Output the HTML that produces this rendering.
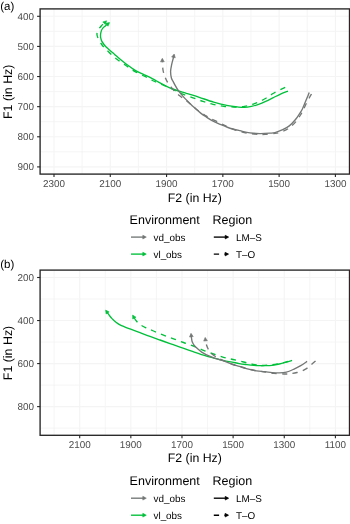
<!DOCTYPE html>
<html><head><meta charset="utf-8"><style>
html,body{margin:0;padding:0;background:#fff;}
body{width:350px;height:524px;overflow:hidden;}
svg{display:block;filter:blur(0.3px);font-family:"Liberation Sans", sans-serif;text-rendering:geometricPrecision;}
</style></head><body>
<svg width="350" height="524" viewBox="0 0 350 524">
<rect width="350" height="524" fill="#fff"/>
<line x1="82.14" y1="8.9" x2="82.14" y2="174.1" stroke="#efefef" stroke-width="0.6"/>
<line x1="138.42" y1="8.9" x2="138.42" y2="174.1" stroke="#efefef" stroke-width="0.6"/>
<line x1="194.7" y1="8.9" x2="194.7" y2="174.1" stroke="#efefef" stroke-width="0.6"/>
<line x1="250.98" y1="8.9" x2="250.98" y2="174.1" stroke="#efefef" stroke-width="0.6"/>
<line x1="307.26" y1="8.9" x2="307.26" y2="174.1" stroke="#efefef" stroke-width="0.6"/>
<line x1="40.1" y1="31.36" x2="349.5" y2="31.36" stroke="#efefef" stroke-width="0.6"/>
<line x1="40.1" y1="61.48" x2="349.5" y2="61.48" stroke="#efefef" stroke-width="0.6"/>
<line x1="40.1" y1="91.6" x2="349.5" y2="91.6" stroke="#efefef" stroke-width="0.6"/>
<line x1="40.1" y1="121.72" x2="349.5" y2="121.72" stroke="#efefef" stroke-width="0.6"/>
<line x1="40.1" y1="151.84" x2="349.5" y2="151.84" stroke="#efefef" stroke-width="0.6"/>
<line x1="54" y1="8.9" x2="54" y2="174.1" stroke="#f4f4f4" stroke-width="1.1"/>
<line x1="110.28" y1="8.9" x2="110.28" y2="174.1" stroke="#f4f4f4" stroke-width="1.1"/>
<line x1="166.56" y1="8.9" x2="166.56" y2="174.1" stroke="#f4f4f4" stroke-width="1.1"/>
<line x1="222.84" y1="8.9" x2="222.84" y2="174.1" stroke="#f4f4f4" stroke-width="1.1"/>
<line x1="279.12" y1="8.9" x2="279.12" y2="174.1" stroke="#f4f4f4" stroke-width="1.1"/>
<line x1="335.4" y1="8.9" x2="335.4" y2="174.1" stroke="#f4f4f4" stroke-width="1.1"/>
<line x1="40.1" y1="16.3" x2="349.5" y2="16.3" stroke="#f4f4f4" stroke-width="1.1"/>
<line x1="40.1" y1="46.42" x2="349.5" y2="46.42" stroke="#f4f4f4" stroke-width="1.1"/>
<line x1="40.1" y1="76.54" x2="349.5" y2="76.54" stroke="#f4f4f4" stroke-width="1.1"/>
<line x1="40.1" y1="106.66" x2="349.5" y2="106.66" stroke="#f4f4f4" stroke-width="1.1"/>
<line x1="40.1" y1="136.78" x2="349.5" y2="136.78" stroke="#f4f4f4" stroke-width="1.1"/>
<line x1="40.1" y1="166.9" x2="349.5" y2="166.9" stroke="#f4f4f4" stroke-width="1.1"/>
<path d="M288,91.1 C286.67,91.63 282.52,93.17 280,94.3 C277.48,95.43 275.28,96.72 272.9,97.9 C270.52,99.08 268.08,100.33 265.7,101.4 C263.32,102.47 260.98,103.47 258.6,104.3 C256.22,105.13 253.78,105.88 251.4,106.4 C249.02,106.92 246.68,107.32 244.3,107.4 C241.92,107.48 239.82,107.18 237.1,106.9 C234.38,106.62 231.92,106.5 228,105.7 C224.08,104.9 218.38,103.5 213.6,102.1 C208.82,100.7 203.23,98.58 199.3,97.3 C195.37,96.02 192.5,95.17 190,94.4 C187.5,93.63 186.2,93.27 184.3,92.7 C182.4,92.13 180.5,91.62 178.6,91 C176.7,90.38 174.82,89.73 172.9,89 C170.98,88.27 169.02,87.48 167.1,86.6 C165.18,85.72 163.3,84.72 161.4,83.7 C159.5,82.68 157.6,81.55 155.7,80.5 C153.8,79.45 151.9,78.35 150,77.4 C148.1,76.45 146.2,75.67 144.3,74.8 C142.4,73.93 140.5,73.18 138.6,72.2 C136.7,71.22 134.82,70.15 132.9,68.9 C130.98,67.65 129.02,66.13 127.1,64.7 C125.18,63.27 123.3,61.85 121.4,60.3 C119.5,58.75 116.95,56.5 115.7,55.4 C114.45,54.3 114.88,54.55 113.9,53.7 C112.92,52.85 111,51.32 109.8,50.3 C108.6,49.28 107.67,48.57 106.7,47.6 C105.73,46.63 104.8,45.53 104,44.5 C103.2,43.47 102.42,42.38 101.9,41.4 C101.38,40.42 101.13,39.52 100.9,38.6 C100.67,37.68 100.5,36.93 100.5,35.9 C100.5,34.87 100.62,33.55 100.9,32.4 C101.18,31.25 101.52,30.03 102.2,29 C102.88,27.97 103.94,27.13 105,26.2 C106.06,25.27 107.98,23.87 108.58,23.4" fill="none" stroke="#00c03a" stroke-width="1.35" stroke-linecap="butt" stroke-linejoin="round"/><path d="M109.6,22.6 L107.99,26.22 L105.7,23.29 Z" fill="#00c03a" stroke="#00c03a" stroke-width="0.6" stroke-linejoin="miter"/>
<path d="M105.67,21.71 C105.31,22.01 104.28,22.74 103.5,23.5 C102.72,24.26 101.87,25.25 101,26.3 C100.13,27.35 98.95,28.28 98.3,29.8 C97.65,31.32 96.53,32.95 97.1,35.4 C97.67,37.85 99.72,41.68 101.7,44.5 C103.68,47.32 106.45,49.83 109,52.3 C111.55,54.77 114.17,57.1 117,59.3 C119.83,61.5 123.05,63.5 126,65.5 C128.95,67.5 131.62,69.52 134.7,71.3 C137.78,73.08 141.37,74.58 144.5,76.2 C147.63,77.82 150.42,79.57 153.5,81 C156.58,82.43 159.75,83.38 163,84.8 C166.25,86.22 169.83,88 173,89.5 C176.17,91 178.67,92.42 182,93.8 C185.33,95.18 189.5,96.53 193,97.8 C196.5,99.07 199.67,100.32 203,101.4 C206.33,102.48 209.5,103.48 213,104.3 C216.5,105.12 220.5,105.85 224,106.3 C227.5,106.75 230.58,106.98 234,107 C237.42,107.02 241.08,106.95 244.5,106.4 C247.92,105.85 251.17,104.93 254.5,103.7 C257.83,102.47 261.25,100.78 264.5,99 C267.75,97.22 270.5,94.97 274,93 C277.5,91.03 283.58,88.17 285.5,87.2" fill="none" stroke="#00c03a" stroke-width="1.35" stroke-linecap="butt" stroke-linejoin="round" stroke-dasharray="5.3,5.3" stroke-dashoffset="6.78"/><path d="M106.6,20.8 L105.41,24.58 L102.8,21.92 Z" fill="#00c03a" stroke="#00c03a" stroke-width="0.6" stroke-linejoin="miter"/>
<path d="M309.2,92.6 C308.9,93.35 308.08,95.43 307.4,97.1 C306.72,98.77 305.93,100.62 305.1,102.6 C304.27,104.58 303.32,107.17 302.4,109 C301.48,110.83 300.75,111.85 299.6,113.6 C298.45,115.35 297.22,117.45 295.5,119.5 C293.78,121.55 291.53,124.17 289.3,125.9 C287.07,127.63 284.48,128.78 282.1,129.9 C279.72,131.02 277.02,132.05 275,132.6 C272.98,133.15 272.5,133.03 270,133.2 C267.5,133.37 263.33,133.65 260,133.6 C256.67,133.55 253.33,133.38 250,132.9 C246.67,132.42 243.45,131.52 240,130.7 C236.55,129.88 232.03,128.83 229.3,128 C226.57,127.17 225.5,126.47 223.6,125.7 C221.7,124.93 219.82,124.25 217.9,123.4 C215.98,122.55 214.02,121.65 212.1,120.6 C210.18,119.55 208.3,118.35 206.4,117.1 C204.5,115.85 202.82,114.77 200.7,113.1 C198.58,111.43 195.58,108.8 193.7,107.1 C191.82,105.4 190.83,104.32 189.4,102.9 C187.97,101.48 186.52,100.1 185.1,98.6 C183.68,97.1 182.1,95.33 180.9,93.9 C179.7,92.47 178.83,91.37 177.9,90 C176.97,88.63 176.1,87.13 175.3,85.7 C174.5,84.27 173.75,82.68 173.1,81.4 C172.45,80.12 171.82,79.68 171.4,78 C170.98,76.32 170.55,73.57 170.6,71.3 C170.65,69.03 171.27,66.53 171.7,64.4 C172.13,62.27 172.83,60.02 173.2,58.5 C173.57,56.98 173.8,55.81 173.92,55.27" fill="none" stroke="#737775" stroke-width="1.35" stroke-linecap="butt" stroke-linejoin="round"/><path d="M174.2,54 L175.26,57.82 L171.62,57.01 Z" fill="#737775" stroke="#737775" stroke-width="0.6" stroke-linejoin="miter"/>
<path d="M162.34,59.6 C162.35,60 162.29,60.27 162.4,62 C162.51,63.73 162.57,67.5 163,70 C163.43,72.5 164.17,74.83 165,77 C165.83,79.17 166.5,80.75 168,83 C169.5,85.25 172,88.33 174,90.5 C176,92.67 177.67,94.08 180,96 C182.33,97.92 185.33,99.83 188,102 C190.67,104.17 193.17,106.8 196,109 C198.83,111.2 202.67,113.67 205,115.2 C207.33,116.73 207.58,116.93 210,118.2 C212.42,119.47 216.33,121.25 219.5,122.8 C222.67,124.35 225.92,126.17 229,127.5 C232.08,128.83 234.83,129.85 238,130.8 C241.17,131.75 244.67,132.62 248,133.2 C251.33,133.78 255.17,134.1 258,134.3 C260.83,134.5 262.17,134.55 265,134.4 C267.83,134.25 272.5,133.75 275,133.4 C277.5,133.05 278.17,132.88 280,132.3 C281.83,131.72 284.25,130.78 286,129.9 C287.75,129.02 288.83,128.4 290.5,127 C292.17,125.6 294.33,123.5 296,121.5 C297.67,119.5 299.25,117 300.5,115 C301.75,113 302.5,111.5 303.5,109.5 C304.5,107.5 305.5,105 306.5,103 C307.5,101 308.67,99 309.5,97.5 C310.33,96 311.17,94.58 311.5,94" fill="none" stroke="#737775" stroke-width="1.35" stroke-linecap="butt" stroke-linejoin="round" stroke-dasharray="5.3,5.3" stroke-dashoffset="2.63"/><path d="M162.3,58.3 L164.25,61.75 L160.53,61.85 Z" fill="#737775" stroke="#737775" stroke-width="0.6" stroke-linejoin="miter"/>
<rect x="40.1" y="8.9" width="309.4" height="165.2" fill="none" stroke="#262626" stroke-width="1.35"/>
<line x1="54" y1="174.1" x2="54" y2="177.1" stroke="#262626" stroke-width="1.1"/>
<text x="54" y="186.9" font-size="9.9" fill="#4d4d4d" text-anchor="middle">2300</text>
<line x1="110.28" y1="174.1" x2="110.28" y2="177.1" stroke="#262626" stroke-width="1.1"/>
<text x="110.28" y="186.9" font-size="9.9" fill="#4d4d4d" text-anchor="middle">2100</text>
<line x1="166.56" y1="174.1" x2="166.56" y2="177.1" stroke="#262626" stroke-width="1.1"/>
<text x="166.56" y="186.9" font-size="9.9" fill="#4d4d4d" text-anchor="middle">1900</text>
<line x1="222.84" y1="174.1" x2="222.84" y2="177.1" stroke="#262626" stroke-width="1.1"/>
<text x="222.84" y="186.9" font-size="9.9" fill="#4d4d4d" text-anchor="middle">1700</text>
<line x1="279.12" y1="174.1" x2="279.12" y2="177.1" stroke="#262626" stroke-width="1.1"/>
<text x="279.12" y="186.9" font-size="9.9" fill="#4d4d4d" text-anchor="middle">1500</text>
<line x1="335.4" y1="174.1" x2="335.4" y2="177.1" stroke="#262626" stroke-width="1.1"/>
<text x="335.4" y="186.9" font-size="9.9" fill="#4d4d4d" text-anchor="middle">1300</text>
<line x1="37.1" y1="16.3" x2="40.1" y2="16.3" stroke="#262626" stroke-width="1.1"/>
<text x="33.9" y="19.85" font-size="9.9" fill="#4d4d4d" text-anchor="end">400</text>
<line x1="37.1" y1="46.42" x2="40.1" y2="46.42" stroke="#262626" stroke-width="1.1"/>
<text x="33.9" y="49.97" font-size="9.9" fill="#4d4d4d" text-anchor="end">500</text>
<line x1="37.1" y1="76.54" x2="40.1" y2="76.54" stroke="#262626" stroke-width="1.1"/>
<text x="33.9" y="80.09" font-size="9.9" fill="#4d4d4d" text-anchor="end">600</text>
<line x1="37.1" y1="106.66" x2="40.1" y2="106.66" stroke="#262626" stroke-width="1.1"/>
<text x="33.9" y="110.21" font-size="9.9" fill="#4d4d4d" text-anchor="end">700</text>
<line x1="37.1" y1="136.78" x2="40.1" y2="136.78" stroke="#262626" stroke-width="1.1"/>
<text x="33.9" y="140.33" font-size="9.9" fill="#4d4d4d" text-anchor="end">800</text>
<line x1="37.1" y1="166.9" x2="40.1" y2="166.9" stroke="#262626" stroke-width="1.1"/>
<text x="33.9" y="170.45" font-size="9.9" fill="#4d4d4d" text-anchor="end">900</text>
<text x="194.8" y="201.8" font-size="12.3" fill="#000" text-anchor="middle">F2 (in Hz)</text>
<text x="0" y="0" font-size="12.4" fill="#000" text-anchor="middle" transform="translate(12.2,91.8) rotate(-90)">F1 (in Hz)</text>
<text x="0.2" y="9.9" font-size="11.5" fill="#000" text-anchor="start">(a)</text>
<text x="129.6" y="223.7" font-size="12.5" fill="#000" text-anchor="start">Environment</text>
<text x="212.6" y="223.7" font-size="12.5" fill="#000" text-anchor="start">Region</text>
<text x="153.5" y="240.6" font-size="9.9" fill="#000" text-anchor="start">vd_obs</text>
<text x="153.5" y="257.7" font-size="9.9" fill="#000" text-anchor="start">vl_obs</text>
<text x="236" y="240.6" font-size="9.9" fill="#000" text-anchor="start">LM–S</text>
<text x="236" y="257.7" font-size="9.9" fill="#000" text-anchor="start">T–O</text>
<line x1="131" y1="237.1" x2="145" y2="237.1" stroke="#737775" stroke-width="1.35"/>
<path d="M146.3,237.1 L142.8,238.96 L142.8,235.24 Z" fill="#737775" stroke="#737775" stroke-width="0.6" stroke-linejoin="miter"/>
<line x1="131" y1="254.1" x2="145" y2="254.1" stroke="#00c03a" stroke-width="1.35"/>
<path d="M146.3,254.1 L142.8,255.96 L142.8,252.24 Z" fill="#00c03a" stroke="#00c03a" stroke-width="0.6" stroke-linejoin="miter"/>
<line x1="213.8" y1="237.1" x2="227.5" y2="237.1" stroke="#000" stroke-width="1.35"/>
<path d="M228.7,237.1 L225.2,238.96 L225.2,235.24 Z" fill="#000" stroke="#000" stroke-width="0.6" stroke-linejoin="miter"/>
<line x1="213.8" y1="254.1" x2="227.5" y2="254.1" stroke="#000" stroke-width="1.35" stroke-dasharray="5.3,5.3"/>
<path d="M228.6,254.1 L225.1,255.96 L225.1,252.24 Z" fill="#000" stroke="#000" stroke-width="0.6" stroke-linejoin="miter"/>
<line x1="54.13" y1="270.1" x2="54.13" y2="435.3" stroke="#efefef" stroke-width="0.6"/>
<line x1="105.27" y1="270.1" x2="105.27" y2="435.3" stroke="#efefef" stroke-width="0.6"/>
<line x1="156.41" y1="270.1" x2="156.41" y2="435.3" stroke="#efefef" stroke-width="0.6"/>
<line x1="207.55" y1="270.1" x2="207.55" y2="435.3" stroke="#efefef" stroke-width="0.6"/>
<line x1="258.69" y1="270.1" x2="258.69" y2="435.3" stroke="#efefef" stroke-width="0.6"/>
<line x1="309.83" y1="270.1" x2="309.83" y2="435.3" stroke="#efefef" stroke-width="0.6"/>
<line x1="40.1" y1="299.02" x2="349.5" y2="299.02" stroke="#efefef" stroke-width="0.6"/>
<line x1="40.1" y1="342.06" x2="349.5" y2="342.06" stroke="#efefef" stroke-width="0.6"/>
<line x1="40.1" y1="385.1" x2="349.5" y2="385.1" stroke="#efefef" stroke-width="0.6"/>
<line x1="40.1" y1="428.14" x2="349.5" y2="428.14" stroke="#efefef" stroke-width="0.6"/>
<line x1="79.7" y1="270.1" x2="79.7" y2="435.3" stroke="#f4f4f4" stroke-width="1.1"/>
<line x1="130.84" y1="270.1" x2="130.84" y2="435.3" stroke="#f4f4f4" stroke-width="1.1"/>
<line x1="181.98" y1="270.1" x2="181.98" y2="435.3" stroke="#f4f4f4" stroke-width="1.1"/>
<line x1="233.12" y1="270.1" x2="233.12" y2="435.3" stroke="#f4f4f4" stroke-width="1.1"/>
<line x1="284.26" y1="270.1" x2="284.26" y2="435.3" stroke="#f4f4f4" stroke-width="1.1"/>
<line x1="335.4" y1="270.1" x2="335.4" y2="435.3" stroke="#f4f4f4" stroke-width="1.1"/>
<line x1="40.1" y1="277.5" x2="349.5" y2="277.5" stroke="#f4f4f4" stroke-width="1.1"/>
<line x1="40.1" y1="320.54" x2="349.5" y2="320.54" stroke="#f4f4f4" stroke-width="1.1"/>
<line x1="40.1" y1="363.58" x2="349.5" y2="363.58" stroke="#f4f4f4" stroke-width="1.1"/>
<line x1="40.1" y1="406.62" x2="349.5" y2="406.62" stroke="#f4f4f4" stroke-width="1.1"/>
<path d="M292.1,360.4 C291.15,360.68 288.53,361.5 286.4,362.1 C284.27,362.7 281.68,363.47 279.3,364 C276.92,364.53 274.48,365.02 272.1,365.3 C269.72,365.58 266.9,365.63 265,365.7 C263.1,365.77 262.6,365.75 260.7,365.7 C258.8,365.65 255.98,365.58 253.6,365.4 C251.22,365.22 248.78,364.9 246.4,364.6 C244.02,364.3 241.68,364.02 239.3,363.6 C236.92,363.18 234.65,362.6 232.1,362.1 C229.55,361.6 226.83,361.23 224,360.6 C221.17,359.97 218,359.05 215.1,358.3 C212.2,357.55 210.07,357.13 206.6,356.1 C203.13,355.07 198.73,353.6 194.3,352.1 C189.87,350.6 184.05,348.52 180,347.1 C175.95,345.68 173.33,344.78 170,343.6 C166.67,342.42 163.33,341.2 160,340 C156.67,338.8 153.33,337.63 150,336.4 C146.67,335.17 143.33,333.85 140,332.6 C136.67,331.35 132.67,329.9 130,328.9 C127.33,327.9 125.67,327.28 124,326.6 C122.33,325.92 121.33,325.53 120,324.8 C118.67,324.07 117.33,323.23 116,322.2 C114.67,321.17 113.13,319.77 112,318.6 C110.87,317.43 110.14,316.44 109.2,315.2 C108.26,313.96 106.82,311.84 106.35,311.16" fill="none" stroke="#00c03a" stroke-width="1.35" stroke-linecap="butt" stroke-linejoin="round"/><path d="M105.6,310.1 L109.14,311.89 L106.1,314.03 Z" fill="#00c03a" stroke="#00c03a" stroke-width="0.6" stroke-linejoin="miter"/>
<path d="M133.25,316.23 C133.71,316.94 134.87,319.12 136,320.5 C137.13,321.88 138.33,323.28 140,324.5 C141.67,325.72 143.75,326.72 146,327.8 C148.25,328.88 150.58,329.77 153.5,331 C156.42,332.23 160.17,333.9 163.5,335.2 C166.83,336.5 170.17,337.58 173.5,338.8 C176.83,340.02 180.17,341.3 183.5,342.5 C186.83,343.7 190.17,344.68 193.5,346 C196.83,347.32 200.17,349.07 203.5,350.4 C206.83,351.73 210.17,352.85 213.5,354 C216.83,355.15 220.25,356.38 223.5,357.3 C226.75,358.22 229.67,358.72 233,359.5 C236.33,360.28 240.17,361.2 243.5,362 C246.83,362.8 249.92,363.75 253,364.3 C256.08,364.85 259.17,365.18 262,365.3 C264.83,365.42 267,365.3 270,365 C273,364.7 277,364.08 280,363.5 C283,362.92 286,362.05 288,361.5 C290,360.95 291.33,360.42 292,360.2" fill="none" stroke="#00c03a" stroke-width="1.35" stroke-linecap="butt" stroke-linejoin="round" stroke-dasharray="5.3,5.3" stroke-dashoffset="8.5"/><path d="M132.6,315.1 L135.96,317.2 L132.74,319.06 Z" fill="#00c03a" stroke="#00c03a" stroke-width="0.6" stroke-linejoin="miter"/>
<path d="M307.1,361.4 C306.03,362.12 302.95,364.38 300.7,365.7 C298.45,367.02 295.98,368.23 293.6,369.3 C291.22,370.37 288.78,371.5 286.4,372.1 C284.02,372.7 281.68,372.82 279.3,372.9 C276.92,372.98 274.48,372.8 272.1,372.6 C269.72,372.4 268.08,372.08 265,371.7 C261.92,371.32 256.7,370.82 253.6,370.3 C250.5,369.78 248.78,369.25 246.4,368.6 C244.02,367.95 241.68,367.12 239.3,366.4 C236.92,365.68 234.7,365.22 232.1,364.3 C229.5,363.38 226.53,361.9 223.7,360.9 C220.87,359.9 217.95,359.3 215.1,358.3 C212.25,357.3 208.77,355.88 206.6,354.9 C204.43,353.92 203.55,353.38 202.1,352.4 C200.65,351.42 199.18,350.13 197.9,349 C196.62,347.87 195.33,346.75 194.4,345.6 C193.47,344.45 192.78,343.37 192.3,342.1 C191.82,340.83 191.69,339.25 191.5,338 C191.31,336.75 191.2,335.16 191.14,334.59" fill="none" stroke="#737775" stroke-width="1.35" stroke-linecap="butt" stroke-linejoin="round"/><path d="M191,333.3 L193.22,336.58 L189.52,336.98 Z" fill="#737775" stroke="#737775" stroke-width="0.6" stroke-linejoin="miter"/>
<path d="M205.33,338.69 C205.37,339.16 205.4,340.45 205.6,341.5 C205.8,342.55 206.07,343.75 206.5,345 C206.93,346.25 207.45,347.67 208.2,349 C208.95,350.33 209.53,351.58 211,353 C212.47,354.42 214.67,356.12 217,357.5 C219.33,358.88 222,360.05 225,361.3 C228,362.55 231.67,363.88 235,365 C238.33,366.12 241.67,367.08 245,368 C248.33,368.92 251.67,369.83 255,370.5 C258.33,371.17 261.83,371.53 265,372 C268.17,372.47 270.83,372.97 274,373.3 C277.17,373.63 281.33,373.93 284,374 C286.67,374.07 287.83,373.95 290,373.7 C292.17,373.45 294.42,373.25 297,372.5 C299.58,371.75 303,370.62 305.5,369.2 C308,367.78 310.25,365.45 312,364 C313.75,362.55 315.33,361.08 316,360.5" fill="none" stroke="#737775" stroke-width="1.35" stroke-linecap="butt" stroke-linejoin="round" stroke-dasharray="5.3,5.3" stroke-dashoffset="4.72"/><path d="M205.2,337.4 L207.39,340.7 L203.69,341.06 Z" fill="#737775" stroke="#737775" stroke-width="0.6" stroke-linejoin="miter"/>
<rect x="40.1" y="270.1" width="309.4" height="165.2" fill="none" stroke="#262626" stroke-width="1.35"/>
<line x1="79.7" y1="435.3" x2="79.7" y2="438.3" stroke="#262626" stroke-width="1.1"/>
<text x="79.7" y="448.2" font-size="9.9" fill="#4d4d4d" text-anchor="middle">2100</text>
<line x1="130.84" y1="435.3" x2="130.84" y2="438.3" stroke="#262626" stroke-width="1.1"/>
<text x="130.84" y="448.2" font-size="9.9" fill="#4d4d4d" text-anchor="middle">1900</text>
<line x1="181.98" y1="435.3" x2="181.98" y2="438.3" stroke="#262626" stroke-width="1.1"/>
<text x="181.98" y="448.2" font-size="9.9" fill="#4d4d4d" text-anchor="middle">1700</text>
<line x1="233.12" y1="435.3" x2="233.12" y2="438.3" stroke="#262626" stroke-width="1.1"/>
<text x="233.12" y="448.2" font-size="9.9" fill="#4d4d4d" text-anchor="middle">1500</text>
<line x1="284.26" y1="435.3" x2="284.26" y2="438.3" stroke="#262626" stroke-width="1.1"/>
<text x="284.26" y="448.2" font-size="9.9" fill="#4d4d4d" text-anchor="middle">1300</text>
<line x1="335.4" y1="435.3" x2="335.4" y2="438.3" stroke="#262626" stroke-width="1.1"/>
<text x="335.4" y="448.2" font-size="9.9" fill="#4d4d4d" text-anchor="middle">1100</text>
<line x1="37.1" y1="277.5" x2="40.1" y2="277.5" stroke="#262626" stroke-width="1.1"/>
<text x="33.9" y="281.05" font-size="9.9" fill="#4d4d4d" text-anchor="end">200</text>
<line x1="37.1" y1="320.54" x2="40.1" y2="320.54" stroke="#262626" stroke-width="1.1"/>
<text x="33.9" y="324.09" font-size="9.9" fill="#4d4d4d" text-anchor="end">400</text>
<line x1="37.1" y1="363.58" x2="40.1" y2="363.58" stroke="#262626" stroke-width="1.1"/>
<text x="33.9" y="367.13" font-size="9.9" fill="#4d4d4d" text-anchor="end">600</text>
<line x1="37.1" y1="406.62" x2="40.1" y2="406.62" stroke="#262626" stroke-width="1.1"/>
<text x="33.9" y="410.17" font-size="9.9" fill="#4d4d4d" text-anchor="end">800</text>
<text x="194.8" y="462.2" font-size="12.3" fill="#000" text-anchor="middle">F2 (in Hz)</text>
<text x="0" y="0" font-size="12.4" fill="#000" text-anchor="middle" transform="translate(12.2,353) rotate(-90)">F1 (in Hz)</text>
<text x="0.2" y="267.8" font-size="11.5" fill="#000" text-anchor="start">(b)</text>
<text x="129.6" y="484.8" font-size="12.5" fill="#000" text-anchor="start">Environment</text>
<text x="212.6" y="484.8" font-size="12.5" fill="#000" text-anchor="start">Region</text>
<text x="153.5" y="501.7" font-size="9.9" fill="#000" text-anchor="start">vd_obs</text>
<text x="153.5" y="518.8" font-size="9.9" fill="#000" text-anchor="start">vl_obs</text>
<text x="236" y="501.7" font-size="9.9" fill="#000" text-anchor="start">LM–S</text>
<text x="236" y="518.8" font-size="9.9" fill="#000" text-anchor="start">T–O</text>
<line x1="131" y1="498.2" x2="145" y2="498.2" stroke="#737775" stroke-width="1.35"/>
<path d="M146.3,498.2 L142.8,500.06 L142.8,496.34 Z" fill="#737775" stroke="#737775" stroke-width="0.6" stroke-linejoin="miter"/>
<line x1="131" y1="515.2" x2="145" y2="515.2" stroke="#00c03a" stroke-width="1.35"/>
<path d="M146.3,515.2 L142.8,517.06 L142.8,513.34 Z" fill="#00c03a" stroke="#00c03a" stroke-width="0.6" stroke-linejoin="miter"/>
<line x1="213.8" y1="498.2" x2="227.5" y2="498.2" stroke="#000" stroke-width="1.35"/>
<path d="M228.7,498.2 L225.2,500.06 L225.2,496.34 Z" fill="#000" stroke="#000" stroke-width="0.6" stroke-linejoin="miter"/>
<line x1="213.8" y1="515.2" x2="227.5" y2="515.2" stroke="#000" stroke-width="1.35" stroke-dasharray="5.3,5.3"/>
<path d="M228.6,515.2 L225.1,517.06 L225.1,513.34 Z" fill="#000" stroke="#000" stroke-width="0.6" stroke-linejoin="miter"/>
</svg>
</body></html>
